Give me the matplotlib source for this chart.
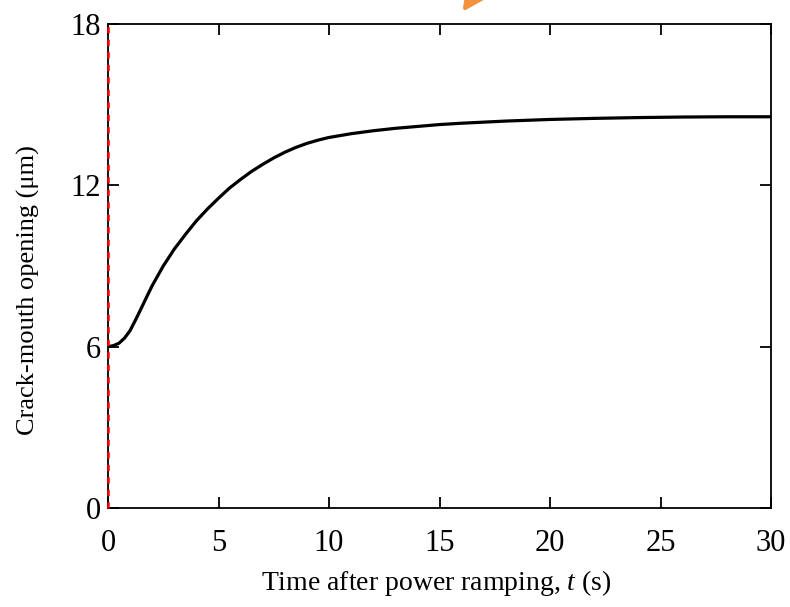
import matplotlib.pyplot as plt

plt.rcParams['font.family'] = ['Liberation Serif', 'DejaVu Serif']
plt.rcParams['mathtext.fontset'] = 'custom'
plt.rcParams['mathtext.rm'] = 'Liberation Serif'
plt.rcParams['mathtext.it'] = 'Liberation Serif:italic'

# Data
time_s = [0, 0.25, 0.5, 0.75, 1, 1.25, 1.5, 1.75, 2, 2.5, 3, 3.5, 4, 4.5, 5, 5.5, 6, 6.5, 7,
          7.5, 8, 8.5, 9, 9.5, 10, 11, 12, 13, 14, 15, 16, 18, 20, 22, 24, 26, 28, 30]
cmod_um = [6.0, 6.04, 6.13, 6.32, 6.6, 7.0, 7.42, 7.85, 8.27, 9.0, 9.63, 10.17, 10.68, 11.12,
           11.52, 11.9, 12.22, 12.52, 12.78, 13.02, 13.23, 13.41, 13.56, 13.68, 13.78, 13.92,
           14.03, 14.12, 14.19, 14.26, 14.31, 14.39, 14.45, 14.49, 14.52, 14.54, 14.55, 14.55]
x_ticks = [0, 5, 10, 15, 20, 25, 30]
y_ticks = [0, 6, 12, 18]

fig = plt.figure(figsize=(7.9, 6.07), dpi=100)
ax = fig.add_axes([108/790, 99/607, 663/790, 484/607])

ax.plot(time_s, cmod_um, color='black', lw=2.3)
ax.axvline(0, color='red', ls=(0, (2.5, 2.5)), lw=1.8, zorder=5, clip_on=False)

ax.set_xlim(0, 30)
ax.set_ylim(0, 18)
ax.set_xticks(x_ticks)
ax.set_yticks(y_ticks)
ax.tick_params(direction='in', top=True, right=True, length=8, width=1.3, labelsize=22)
ax.tick_params(axis='x', pad=15)
ax.tick_params(axis='y', pad=5)
for s in ax.spines.values():
    s.set_linewidth(1.3)

ax.set_xlabel('Time after power ramping, $t$ (s)', fontsize=20)
ax.set_ylabel('Crack-mouth opening (μm)', fontsize=19)
ax.xaxis.set_label_coords(0.495, -0.124)
ax.yaxis.set_label_coords(-0.102, 0.45)

# orange arrow peeking in at the top edge
ax.annotate('', xy=(461, 593), xycoords='figure pixels',
            xytext=(500, 650), textcoords='figure pixels',
            arrowprops=dict(arrowstyle='-|>,head_length=0.9,head_width=0.45',
                            color='#F5923E', lw=3, mutation_scale=20),
            annotation_clip=False)

plt.savefig('out.png', dpi=100)
